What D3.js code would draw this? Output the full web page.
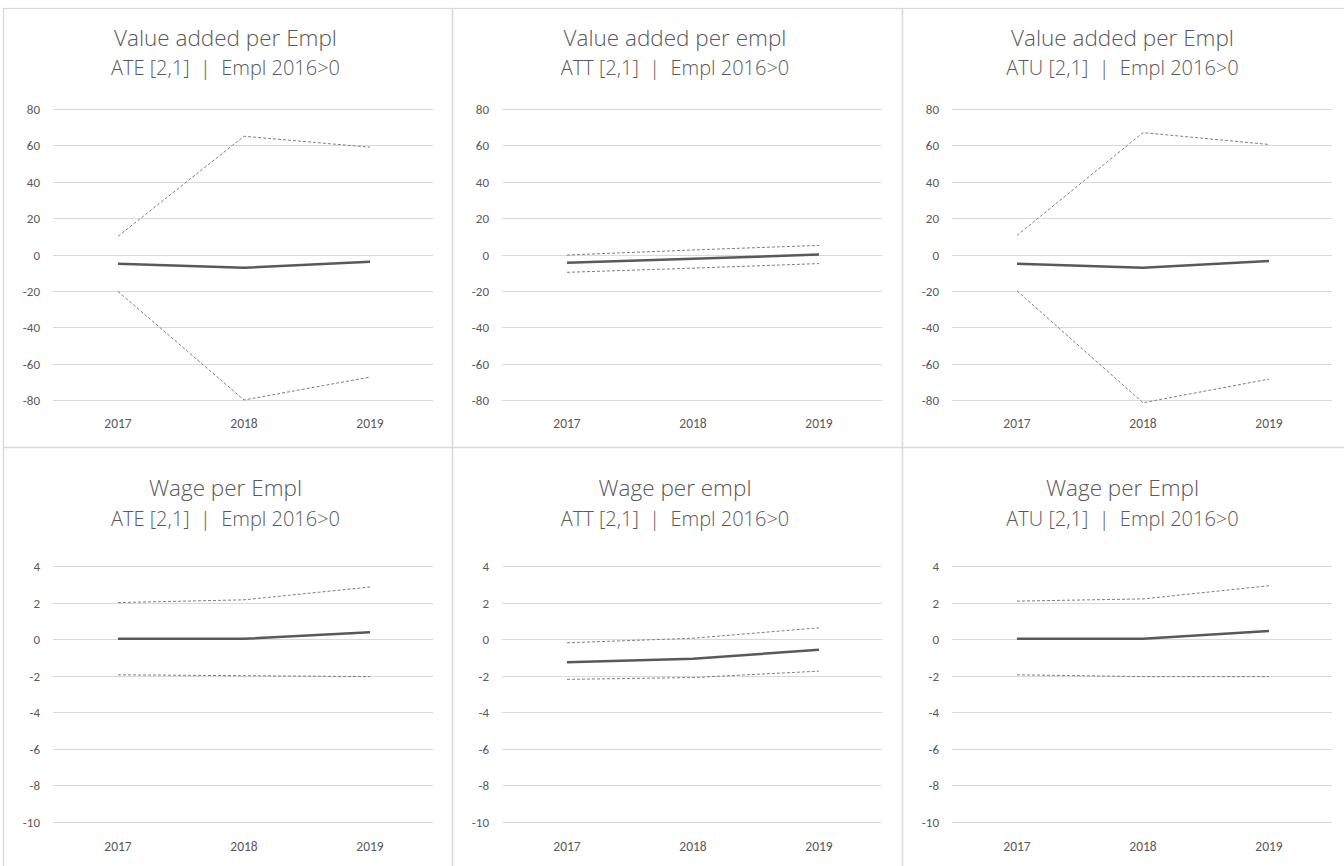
<!DOCTYPE html>
<html><head><meta charset="utf-8">
<script src="https://cdn.jsdelivr.net/npm/d3@7"></script>
<style>
html,body{margin:0;padding:0;background:#fff;}
svg{display:block;}
text{font-family:Carlito,Lato,"Open Sans",sans-serif;fill:#595959;}
text.title{font-family:"Open Sans",Lato,sans-serif;font-weight:300;}
</style></head>
<body>
<svg id="chart" width="1344" height="866"></svg>
<script>
const years = ["2017","2018","2019"];
const titles1 = ["Value added per Empl","Value added per empl","Value added per Empl","Wage per Empl","Wage per empl","Wage per Empl"];
const titles2 = ["ATE [2,1]  |  Empl 2016>0","ATT [2,1]  |  Empl 2016>0","ATU [2,1]  |  Empl 2016>0","ATE [2,1]  |  Empl 2016>0","ATT [2,1]  |  Empl 2016>0","ATU [2,1]  |  Empl 2016>0"];
const vaTicks = [80,60,40,20,0,-20,-40,-60,-80];
const wageTicks = [4,2,0,-2,-4,-6,-8,-10];
// estimate, upper bound, lower bound for each panel
const meanATE_VA = [-5.1,-7.3,-4.0];
const upATE_VA   = [10,65,59];
const loATE_VA   = [-20.3,-80,-67.4];
const meanATT_VA = [-4.6,-2.4,0];
const upATT_VA   = [-0.3,2.5,5];
const loATT_VA   = [-9.8,-7.5,-5];
const meanATU_VA = [-5.1,-7.3,-3.6];
const upATU_VA   = [10.5,67,60.5];
const loATU_VA   = [-20,-81.5,-68.5];
const meanATE_W = [0.02,0.02,0.38];
const upATE_W   = [2.0,2.15,2.85];
const loATE_W   = [-1.95,-2.0,-2.05];
const meanATT_W = [-1.27,-1.07,-0.58];
const upATT_W   = [-0.2,0.05,0.62];
const loATT_W   = [-2.2,-2.1,-1.75];
const meanATU_W = [0.02,0.02,0.45];
const upATU_W   = [2.08,2.2,2.92];
const loATU_W   = [-1.95,-2.05,-2.05];

const panels = [
  {mean:meanATE_VA, up:upATE_VA, lo:loATE_VA, ticks:vaTicks},
  {mean:meanATT_VA, up:upATT_VA, lo:loATT_VA, ticks:vaTicks},
  {mean:meanATU_VA, up:upATU_VA, lo:loATU_VA, ticks:vaTicks},
  {mean:meanATE_W, up:upATE_W, lo:loATE_W, ticks:wageTicks},
  {mean:meanATT_W, up:upATT_W, lo:loATT_W, ticks:wageTicks},
  {mean:meanATU_W, up:upATU_W, lo:loATU_W, ticks:wageTicks}
];

const svg = d3.select("#chart");
const colX = [3,452,902], colW = [449,450,445];
const rowY = [8,447], rowH = [439,422];
const rowYRange = [[400,109],[822,566]];
const rowTitleBase = [[46,75],[496,526]];
const rowYearBase = [428,851];
const borderC = "#d9d9d9";

panels.forEach((p,i)=>{
  const c = i%3, r = Math.floor(i/3);
  const px = colX[c], py = rowY[r];
  const g = svg.append("g");
  g.append("rect").attr("x",px+0.5).attr("y",py+0.5).attr("width",colW[c]).attr("height",rowH[r])
    .attr("fill","none").attr("stroke",borderC).attr("stroke-width",1.3);
  const x = d3.scaleBand().domain(years).range([px+52,px+430]);
  const y = d3.scaleLinear().domain([d3.min(p.ticks),d3.max(p.ticks)]).range(rowYRange[r]);
  g.selectAll(".grid").data(p.ticks).join("line")
    .attr("x1",px+50).attr("x2",px+430)
    .attr("y1",d=>Math.round(y(d))+0.5).attr("y2",d=>Math.round(y(d))+0.5)
    .attr("stroke","#d9d9d9").attr("stroke-width",1);
  g.selectAll(".yl").data(p.ticks).join("text")
    .attr("x",px+37).attr("y",d=>y(d)+5)
    .attr("text-anchor","end").attr("font-size",13).text(d=>d);
  g.selectAll(".xl").data(years).join("text")
    .attr("x",d=>x(d)+x.bandwidth()/2).attr("y",rowYearBase[r])
    .attr("text-anchor","middle").attr("font-size",13.5).text(d=>d);
  g.append("text").attr("class","title").attr("x",px+colW[c]/2 - 2).attr("y",rowTitleBase[r][0])
    .attr("text-anchor","middle").attr("font-size",22.5).text(titles1[i]);
  g.append("text").attr("class","title").attr("x",px+colW[c]/2 - 2).attr("y",rowTitleBase[r][1])
    .attr("text-anchor","middle").attr("font-size",20).style("white-space","pre").text(titles2[i]);
  const line = d3.line().x((d,j)=>x(years[j])+x.bandwidth()/2).y(d=>y(d));
  g.append("path").attr("d",line(p.up)).attr("fill","none").attr("stroke","#7f7f7f").attr("stroke-width",1).attr("stroke-dasharray","3,2");
  g.append("path").attr("d",line(p.lo)).attr("fill","none").attr("stroke","#7f7f7f").attr("stroke-width",1).attr("stroke-dasharray","3,2");
  g.append("path").attr("d",line(p.mean)).attr("fill","none").attr("stroke","#595959").attr("stroke-width",2.5).attr("stroke-linejoin","round");
});
</script>
</body></html>
